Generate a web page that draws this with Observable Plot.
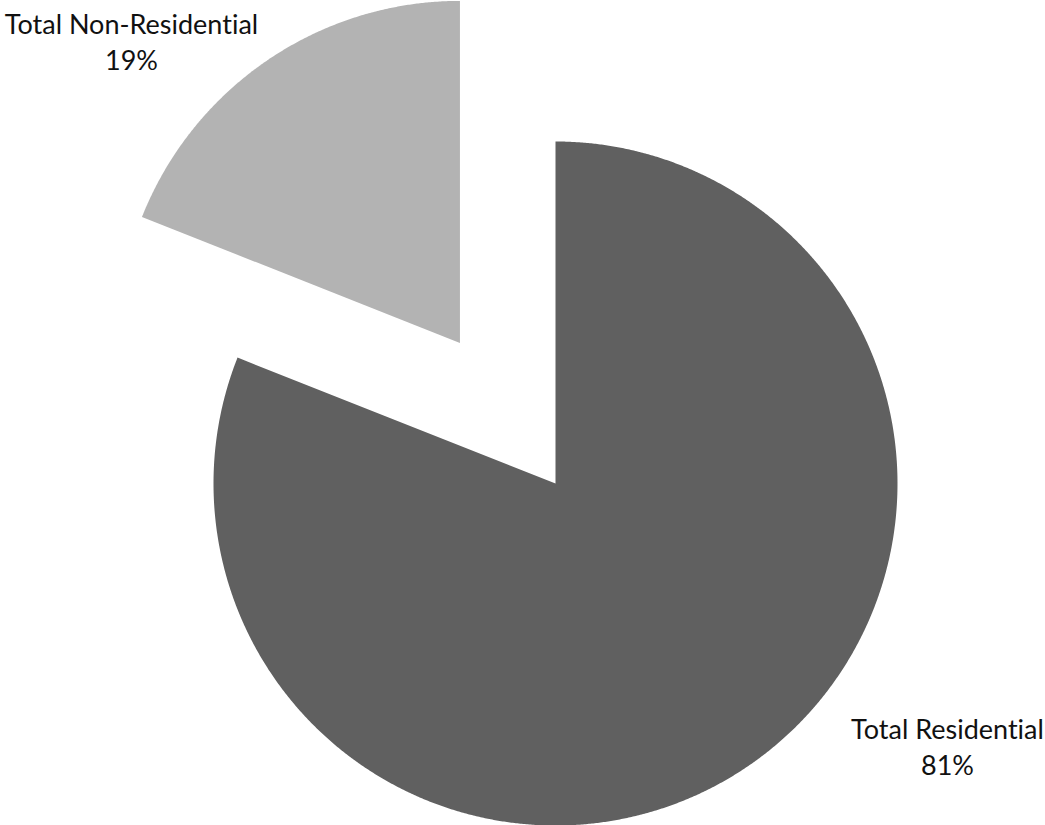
<!DOCTYPE html>
<html>
<head>
<meta charset="utf-8">
<script src="https://cdn.jsdelivr.net/npm/d3@7"></script>
<script src="https://cdn.jsdelivr.net/npm/@observablehq/plot@0.6"></script>
<style>
  html, body { margin: 0; padding: 0; background: #fff; }
  #chart svg { display: block; }
  #chart text { font-variant-ligatures: none; font-feature-settings: "liga" 0, "clig" 0; }
</style>
</head>
<body>
<div id="chart"></div>
<script>
// ---- data ----
const categories = ["Total Residential", "Total Non-Residential"];
const percents = [81, 19];
const colors = ["#606060", "#b3b3b3"];
const exploded = [false, true];

// ---- geometry (in pixel-like units, y up) ----
const W = 1045, H = 825;
const cx = 555, cy = 483;       // pie centre in page pixels
const R = 342;                  // radius
const explodeDist = 170;        // offset of exploded slice

const arcs = d3.pie().sort(null).value((d, i) => percents[i])(categories);

const points = [];
arcs.forEach((a, i) => {
  const mid = (a.startAngle + a.endAngle) / 2;
  const off = exploded[i] ? explodeDist : 0;
  const ox = off * Math.sin(mid), oy = off * Math.cos(mid);
  const cat = categories[i];
  points.push({cat, x: ox, y: oy});
  const n = Math.max(2, Math.ceil((a.endAngle - a.startAngle) / (Math.PI / 720)));
  for (let k = 0; k <= n; k++) {
    const t = a.startAngle + (a.endAngle - a.startAngle) * k / n;
    points.push({cat, x: ox + R * Math.sin(t), y: oy + R * Math.cos(t)});
  }
  points.push({cat, x: ox, y: oy});
});

const labels = categories.map((c, i) => ({text: `${c}\n${percents[i]}%`, cat: c}));
// label anchor positions (page pixels: centre x, top of caps) converted to chart units
const labelAt = {
  "Total Residential": [947, 714],
  "Total Non-Residential": [131, 9]
};
labels.forEach(l => { l.x = labelAt[l.cat][0] - cx; l.y = cy - labelAt[l.cat][1]; });

const chart = Plot.plot({
  width: W,
  height: H,
  margin: 0,
  x: {domain: [-cx, W - cx], axis: null},
  y: {domain: [cy - H, cy], axis: null},
  color: {domain: categories, range: colors},
  style: {fontFamily: "Lato, 'Open Sans', sans-serif"},
  marks: [
    Plot.line(points, {x: "x", y: "y", z: "cat", fill: "cat", stroke: null, curve: "linear"}),
    Plot.text(labels, {x: "x", y: "y", text: "text", textAnchor: "middle", lineAnchor: "top",
      lineHeight: 1.3, fontSize: 27, fill: "#111"})
  ]
});
document.getElementById("chart").append(chart);
</script>
</body>
</html>
